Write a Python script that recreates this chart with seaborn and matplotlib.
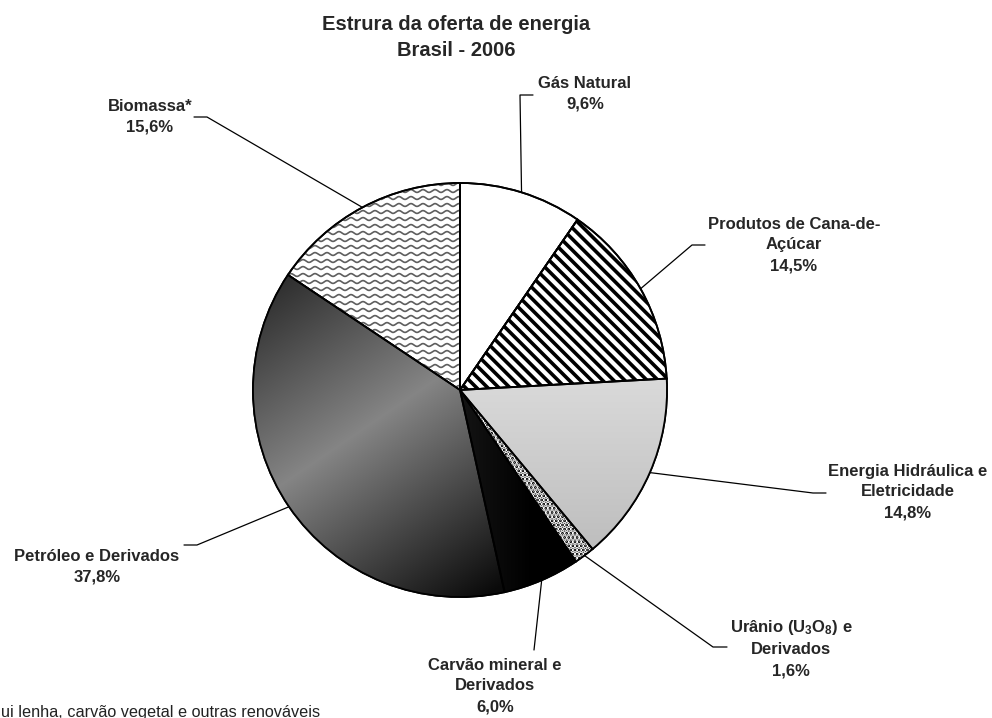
import numpy as np
import pandas as pd
import seaborn as sns
import matplotlib
matplotlib.use("Agg")
import matplotlib.pyplot as plt
from matplotlib.patches import Wedge

# ---------------- data ----------------
categories = ["Gás Natural", "Produtos de Cana-de-Açúcar", "Energia Hidráulica e Eletricidade",
              "Urânio (U3O8) e Derivados", "Carvão mineral e Derivados",
              "Petróleo e Derivados", "Biomassa*"]
shares = [9.6, 14.5, 14.8, 1.6, 6.0, 37.8, 15.6]
label_texts = ["Gás Natural", "Produtos de Cana-de-\nAçúcar", "Energia Hidráulica e\nEletricidade",
               "Urânio (U$_3$O$_8$) e\nDerivados", "Carvão mineral e\nDerivados",
               "Petróleo e Derivados", "Biomassa*"]
title_lines = ["Estrura da oferta de energia", "Brasil - 2006"]
footnote_visible = "ui lenha, carvão vegetal e outras renováveis"

df = pd.DataFrame({"categoria": categories, "share": shares, "label": label_texts})

# ---------------- style ----------------
sns.set_theme(style="white")
plt.rcParams["font.family"] = ["Liberation Sans", "DejaVu Sans"]
plt.rcParams["hatch.linewidth"] = 2.6
plt.rcParams["mathtext.fontset"] = "custom"
plt.rcParams["mathtext.rm"] = "Liberation Sans:bold"
plt.rcParams["mathtext.it"] = "Liberation Sans:bold"
plt.rcParams["mathtext.bf"] = "Liberation Sans:bold"

W, H = 992, 718
fig = plt.figure(figsize=(W / 100, H / 100), dpi=100)
ax = fig.add_axes([0, 0, 1, 1])

def Y(y):  # pixel (top origin) -> data
    return H - y

CX, CY, R = 460, 390, 207
base_colors = ["white", "white", "#d0d0d0", "black", "black", "#666666", "white"]
wedges, _ = ax.pie(df["share"], startangle=90, counterclock=False, center=(CX, Y(CY)),
                   radius=R, colors=base_colors,
                   wedgeprops=dict(edgecolor="black", linewidth=1.3))
ax.set_xlim(0, W)
ax.set_ylim(0, H)
ax.set_aspect("auto")
ax.axis("off")


def grad_image(wedge, func, zorder=1.5):
    cx, cy = wedge.center
    r = wedge.r
    xs = np.linspace(cx - r, cx + r, 400)
    ys = np.linspace(cy - r, cy + r, 400)
    X, YY = np.meshgrid(xs, ys)
    G = np.clip(func((X - cx) / r, (YY - cy) / r), 0, 1)
    im = ax.imshow(np.dstack([G, G, G]), extent=[cx - r, cx + r, cy - r, cy + r],
                   origin="lower", zorder=zorder, interpolation="bilinear")
    im.set_clip_path(wedge)


# Petróleo: dark - gray - dark diagonal gradient
P0 = np.array([-0.83, 0.56]); P1 = np.array([0.2, -0.95]); D = P1 - P0
def petro(x, y):
    t = ((x - P0[0]) * D[0] + (y - P0[1]) * D[1]) / (D @ D)
    return np.interp(t, [0, 0.45, 1], [0.18, 0.52, 0.04])
grad_image(wedges[5], petro)

# Hidráulica: light vertical gradient
grad_image(wedges[2], lambda x, y: np.interp(y, [-0.8, 0.1], [0.74, 0.86]))

# Carvão: near black
grad_image(wedges[4], lambda x, y: np.interp(x, [0.0, 0.35], [0.08, 0.0]))

# Cana: thick diagonal stripes
w = wedges[1]
ax.add_patch(Wedge(w.center, w.r, w.theta1, w.theta2, facecolor="none",
                   edgecolor="black", hatch="\\\\\\", linewidth=0, zorder=2))

# Urânio: white dots on black
w = wedges[3]
ax.add_patch(Wedge(w.center, w.r, w.theta1, w.theta2, facecolor="none",
                   edgecolor="white", hatch="....", linewidth=0, zorder=2))

# Biomassa: gray wavy texture
w = wedges[6]
clipw = Wedge(w.center, w.r, w.theta1, w.theta2, facecolor="none", edgecolor="none")
ax.add_patch(clipw)
xs = np.linspace(w.center[0] - w.r, w.center[0] + w.r, 800)
for row in np.arange(w.center[1] - w.r, w.center[1] + w.r, 7.0):
    ln, = ax.plot(xs, row + 1.4 * np.sin(2 * np.pi * xs / 12.0), color="#5e5e5e",
                  lw=1.2, zorder=2)
    ln.set_clip_path(clipw)

# outlines on top
for w in wedges:
    ax.add_patch(Wedge(w.center, w.r, w.theta1, w.theta2, facecolor="none",
                       edgecolor="black", linewidth=1.3, zorder=4))

# ---------------- labels ----------------
lab_fs = 12
# (text center x, text center y, elbow-out x, elbow-in x, elbow y) in pixels
label_layout = [
    (585, 94, 533, 520, 95),
    (794, 245, 705, 692, 245),
    (908, 492, 826, 813, 493),
    (791, 648, 727, 713, 647),
    (495, 686, 534, 534, 650),
    (97, 567, 184, 197, 545),
    (150, 117, 194, 207, 117),
]
for w, (lab, val), (tx, ty, ex0, ex1, ey) in zip(wedges, zip(df["label"], df["share"]), label_layout):
    pct = f"{val:.1f}".replace(".", ",") + "%"
    ax.text(tx, Y(ty), f"{lab}\n{pct}", ha="center", va="center", fontsize=lab_fs,
            fontweight="bold", linespacing=1.48, zorder=5)
    ang = np.deg2rad((w.theta1 + w.theta2) / 2)
    px = w.center[0] + w.r * np.cos(ang)
    py = w.center[1] + w.r * np.sin(ang)
    ax.plot([ex0, ex1, px], [Y(ey), Y(ey), py], color="black", lw=0.9, zorder=5)

ax.text(456, Y(25), title_lines[0], ha="center", va="center", fontsize=14.5, fontweight="bold")
ax.text(456, Y(50), title_lines[1], ha="center", va="center", fontsize=14.5, fontweight="bold")

ax.text(1, Y(712), footnote_visible, ha="left", va="center", fontsize=11.7, color="#222222")

fig.savefig("out.png", dpi=100)
